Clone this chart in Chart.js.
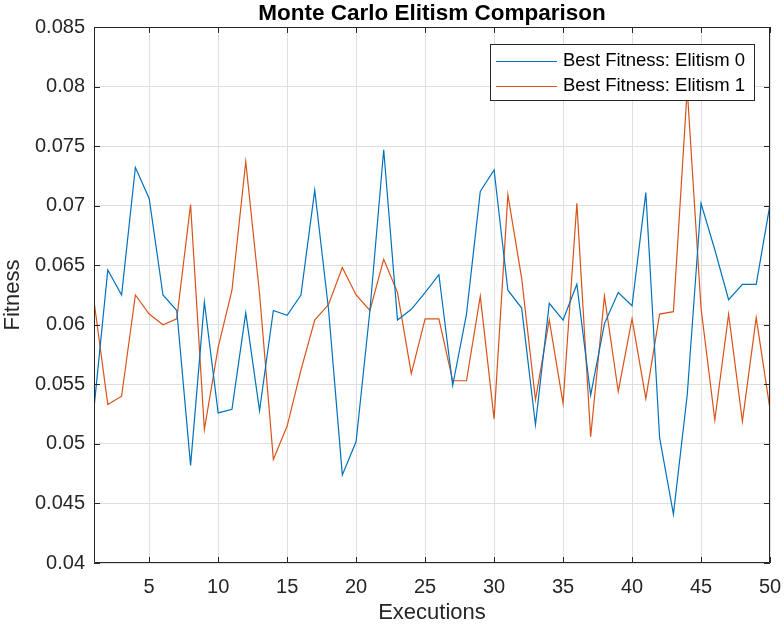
<!DOCTYPE html>
<html>
<head>
<meta charset="utf-8">
<title>Monte Carlo Elitism Comparison</title>
<script src="https://cdn.jsdelivr.net/npm/chart.js@4.4.1/dist/chart.umd.min.js"></script>
<style>
  html, body { margin: 0; padding: 0; background: #fff; }
  #wrap { width: 784px; height: 626px; }
</style>
</head>
<body>
<div id="wrap"><canvas id="fitChart" width="784" height="626"></canvas></div>
<script>
// Monte Carlo elitism comparison — best fitness per execution
var executions = [];
for (var i = 1; i <= 50; i++) executions.push(i);

var elitism0 = [
  0.0530, 0.0646, 0.0625, 0.0732, 0.0706, 0.0625, 0.0612, 0.0482, 0.0619, 0.0526,
  0.0529, 0.0610, 0.0528, 0.0612, 0.0608, 0.0625, 0.0713, 0.0613, 0.0474, 0.0502,
  0.0612, 0.0747, 0.0604, 0.0613, 0.0627, 0.0642, 0.0549, 0.0609, 0.0712, 0.0730,
  0.0629, 0.0614, 0.0516, 0.0618, 0.0604, 0.0634, 0.0541, 0.0601, 0.0627, 0.0616,
  0.0711, 0.0505, 0.0441, 0.0541, 0.0702, 0.0663, 0.0621, 0.0634, 0.0634, 0.0701
];

var elitism1 = [
  0.0620, 0.0533, 0.0540, 0.0625, 0.0609, 0.0600, 0.0605, 0.0701, 0.0512, 0.0581,
  0.0629, 0.0737, 0.0626, 0.0487, 0.0515, 0.0562, 0.0604, 0.0617, 0.0648, 0.0625,
  0.0612, 0.0655, 0.0627, 0.0559, 0.0605, 0.0605, 0.0553, 0.0553, 0.0624, 0.0521,
  0.0709, 0.0639, 0.0537, 0.0604, 0.0534, 0.0702, 0.0506, 0.0624, 0.0544, 0.0605,
  0.0538, 0.0609, 0.0611, 0.0798, 0.0614, 0.0520, 0.0609, 0.0519, 0.0606, 0.0529
];

var seriesNames = ["Best Fitness: Elitism 0", "Best Fitness: Elitism 1"];
var xTicks = [5, 10, 15, 20, 25, 30, 35, 40, 45, 50];
var yTicks = [0.04, 0.045, 0.05, 0.055, 0.06, 0.065, 0.07, 0.075, 0.08, 0.085];

var BLUE = "#0072BD";
var ORANGE = "#D95319";
var AXIS = "#262626";

function toPoints(ys) {
  return ys.map(function (y, i) { return { x: executions[i], y: y }; });
}

// box round the axes with inward ticks, like the original figure
var frame = {
  id: "frame",
  afterDatasetsDraw: function (chart) {
    var ctx = chart.ctx;
    var a = chart.chartArea;
    var xs = chart.scales.x;
    var ys = chart.scales.y;
    var len = 6;
    ctx.save();
    ctx.strokeStyle = AXIS;
    ctx.lineWidth = 1;
    ctx.beginPath();
    ctx.rect(Math.round(a.left) + 0.5, Math.round(a.top) + 0.5,
      Math.round(a.right - a.left) - 1, Math.round(a.bottom - a.top) - 1);
    xTicks.forEach(function (v) {
      var px = Math.round(xs.getPixelForValue(v)) + 0.5;
      ctx.moveTo(px, a.bottom); ctx.lineTo(px, a.bottom - len);
      ctx.moveTo(px, a.top); ctx.lineTo(px, a.top + len);
    });
    yTicks.forEach(function (v) {
      var py = Math.round(ys.getPixelForValue(v)) + 0.5;
      ctx.moveTo(a.left, py); ctx.lineTo(a.left + len, py);
      ctx.moveTo(a.right, py); ctx.lineTo(a.right - len, py);
    });
    ctx.stroke();
    ctx.restore();
  }
};

// legend box in the top right corner, white fill over the lines
var boxLegend = {
  id: "boxLegend",
  afterDraw: function (chart) {
    var ctx = chart.ctx;
    var a = chart.chartArea;
    var x0 = a.right - 280, y0 = a.top + 17, w = 264, h = 56;
    var colors = [BLUE, ORANGE];
    ctx.save();
    ctx.fillStyle = "#fff";
    ctx.fillRect(x0, y0, w, h);
    ctx.strokeStyle = AXIS;
    ctx.lineWidth = 1;
    ctx.strokeRect(x0 + 0.5, y0 + 0.5, w, h);
    ctx.font = "18.5px 'Liberation Sans', Arial, sans-serif";
    ctx.textBaseline = "middle";
    ctx.textAlign = "left";
    seriesNames.forEach(function (name, i) {
      var cy = y0 + 17 + i * 25;
      ctx.strokeStyle = colors[i];
      ctx.lineWidth = 1.2;
      ctx.beginPath();
      ctx.moveTo(x0 + 6, cy + 0.5);
      ctx.lineTo(x0 + 67, cy + 0.5);
      ctx.stroke();
      ctx.fillStyle = "#000";
      ctx.fillText(name, x0 + 73, cy);
    });
    ctx.restore();
  }
};

var plotTitle = {
  id: "plotTitle",
  afterDraw: function (chart) {
    var ctx = chart.ctx;
    var a = chart.chartArea;
    ctx.save();
    ctx.font = "bold 22.5px 'Liberation Sans', Arial, sans-serif";
    ctx.fillStyle = "#000";
    ctx.textAlign = "center";
    ctx.textBaseline = "alphabetic";
    ctx.fillText("Monte Carlo Elitism Comparison", (a.left + a.right) / 2, 20);
    ctx.restore();
  }
};

var ctx = document.getElementById("fitChart").getContext("2d");
new Chart(ctx, {
  type: "line",
  data: {
    datasets: [{
      label: seriesNames[0],
      data: toPoints(elitism0),
      borderColor: BLUE,
      borderWidth: 1.2,
      pointRadius: 0,
      tension: 0,
      fill: false
    }, {
      label: seriesNames[1],
      data: toPoints(elitism1),
      borderColor: ORANGE,
      borderWidth: 1.2,
      pointRadius: 0,
      tension: 0,
      fill: false
    }]
  },
  options: {
    responsive: false,
    animation: false,
    devicePixelRatio: 1,
    layout: { padding: { top: 27, right: 14, left: 0, bottom: 0 } },
    plugins: {
      legend: { display: false },
      title: { display: false },
      tooltip: { enabled: false }
    },
    scales: {
      x: {
        type: "linear",
        min: 1,
        max: 50,
        afterBuildTicks: function (scale) {
          scale.ticks = xTicks.map(function (v) { return { value: v }; });
        },
        afterFit: function (scale) {
          scale.height = 63;
          scale.paddingLeft = 0;
          scale.paddingRight = 0;
        },
        grid: { color: "#dfdfdf", lineWidth: 1, drawTicks: false },
        border: { display: false },
        ticks: {
          autoSkip: false,
          maxRotation: 0,
          padding: 12,
          color: AXIS,
          font: { family: "'Liberation Sans', Arial, sans-serif", size: 20 }
        },
        title: {
          display: true,
          text: "Executions",
          color: AXIS,
          padding: { top: 0, bottom: 0 },
          font: { family: "'Liberation Sans', Arial, sans-serif", size: 22 }
        }
      },
      y: {
        type: "linear",
        min: 0.04,
        max: 0.085,
        afterBuildTicks: function (scale) {
          scale.ticks = yTicks.map(function (v) { return { value: v }; });
        },
        afterFit: function (scale) {
          scale.width = 94;
          scale.paddingTop = 0;
          scale.paddingBottom = 0;
        },
        grid: { color: "#dfdfdf", lineWidth: 1, drawTicks: false },
        border: { display: false },
        ticks: {
          padding: 9,
          color: AXIS,
          font: { family: "'Liberation Sans', Arial, sans-serif", size: 20 },
          callback: function (v) { return String(+v.toFixed(3)); }
        },
        title: {
          display: true,
          text: "Fitness",
          color: AXIS,
          padding: { top: 0, bottom: 0 },
          font: { family: "'Liberation Sans', Arial, sans-serif", size: 22 }
        }
      }
    }
  },
  plugins: [frame, boxLegend, plotTitle]
});
</script>
</body>
</html>
